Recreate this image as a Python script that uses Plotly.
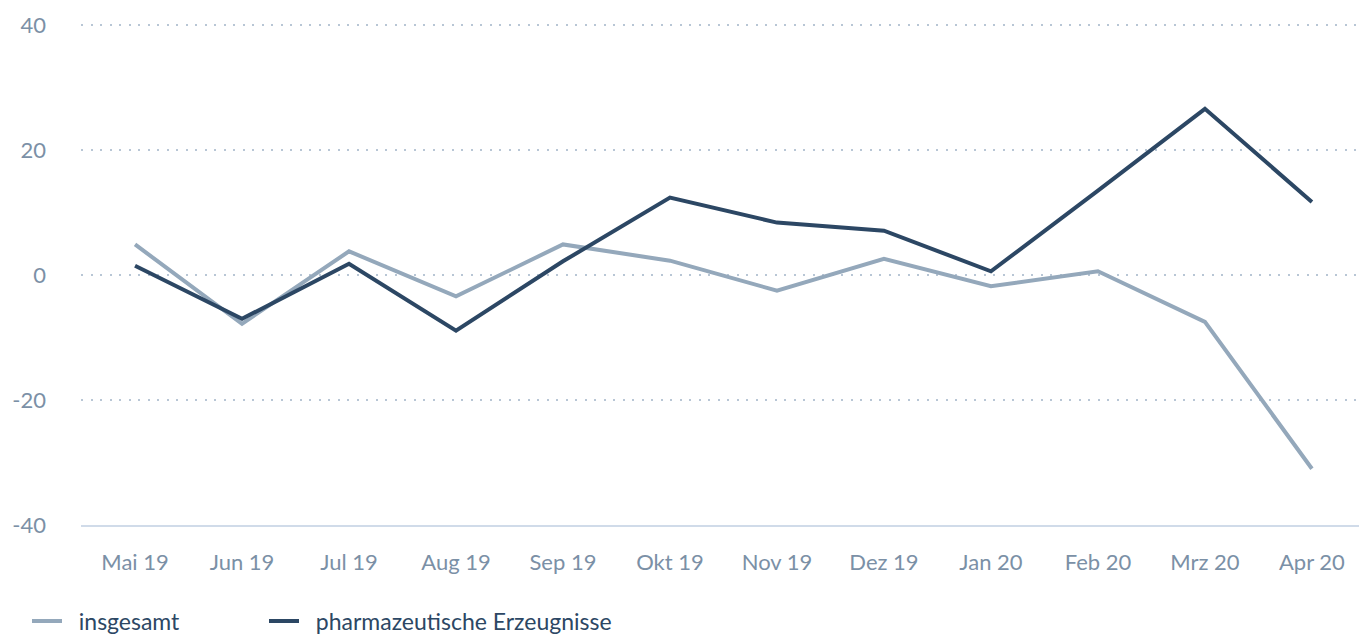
import plotly.graph_objects as go

categories = ["Mai 19", "Jun 19", "Jul 19", "Aug 19", "Sep 19", "Okt 19",
              "Nov 19", "Dez 19", "Jan 20", "Feb 20", "Mrz 20", "Apr 20"]
insgesamt = [4.9, -7.8, 3.8, -3.4, 4.9, 2.3, -2.5, 2.6, -1.8, 0.6, -7.5, -31.0]
pharma = [1.5, -7.0, 1.8, -8.9, 2.2, 12.4, 8.4, 7.1, 0.6, 13.5, 26.6, 11.7]
y_ticks = [-40, -20, 0, 20, 40]
y_ticktext = ["-40", "-20", "0", "20", "40"]

LIGHT = "#94a8bb"
DARK = "#2c4764"
TICK = "#7b90a6"
FONT = "Lato"

x_idx = list(range(len(categories)))

fig = go.Figure()
fig.add_trace(go.Scatter(x=x_idx, y=insgesamt, mode="lines", name="\u00a0\u00a0insgesamt",
                         line=dict(color=LIGHT, width=4), legend="legend"))
fig.add_trace(go.Scatter(x=x_idx, y=pharma, mode="lines",
                         name="\u00a0\u00a0pharmazeutische Erzeugnisse",
                         line=dict(color=DARK, width=4), legend="legend2"))

leg_common = dict(orientation="h", xref="container", yref="container",
                  xanchor="left", yanchor="middle",
                  y=0.022, font=dict(family=FONT, size=23, color=DARK),
                  bgcolor="rgba(0,0,0,0)", borderwidth=0)

fig.update_layout(
    width=1359, height=635,
    margin=dict(l=81, r=0, t=22, b=110, autoexpand=False),
    paper_bgcolor="white", plot_bgcolor="white",
    font=dict(family=FONT, size=22, color=TICK),
    showlegend=True,
    legend=dict(x=27 / 1359, **leg_common),
    legend2=dict(x=264 / 1359, **leg_common),
    xaxis=dict(tickmode="array", tickvals=x_idx, ticktext=categories,
               range=[-0.505, 11.44], showgrid=False, zeroline=False,
               showline=True, linecolor="#d0dbe9", linewidth=2, tickangle=0,
               automargin=False,
               ticks="", ticklabelstandoff=17, tickfont=dict(color=TICK, size=22)),
    yaxis=dict(tickmode="array", tickvals=y_ticks, ticktext=y_ticktext, range=[-40, 40.5],
               showgrid=True, gridcolor="#b8c6d5", gridwidth=2, griddash="2px,7.5px",
               zeroline=False, showline=False, ticks="", ticklabelstandoff=34,
               automargin=False,
               tickfont=dict(color=TICK, size=22)),
)

fig.write_html("out.html")
